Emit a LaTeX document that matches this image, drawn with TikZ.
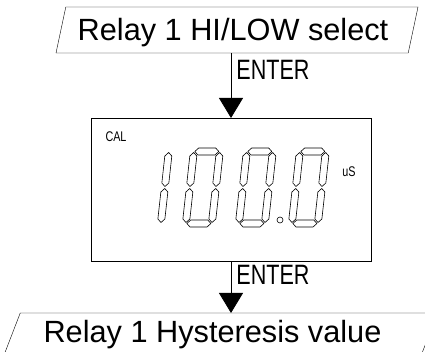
\documentclass[tikz,border=0pt]{standalone}
\usepackage{fontspec}
\setmainfont{Liberation Sans}
\newfontfamily\condfont{Liberation Sans}[FakeStretch=0.77]
\usetikzlibrary{arrows.meta,calc,positioning,shapes.geometric}
\tikzset{%
	io/.style      = {draw, trapezium, trapezium stretches body, minimum height=46pt, inner sep=0pt, outer sep=0pt, font=\fontsize{30.7}{32}\selectfont, text height=22pt, text depth=0pt},
	display/.style = {draw, rectangle, minimum width=280pt, minimum height=143pt, inner sep=0pt, outer sep=0pt},
	arrow/.style   = {line width=0.8pt, -{Triangle[width=24pt,length=20pt]}},
	key/.style     = {font=\condfont\fontsize{28}{30}\selectfont, anchor=west, text height=20pt, text depth=0pt, inner sep=5pt},
	small/.style   = {font=\condfont\fontsize{14}{16}\selectfont, inner sep=0pt},
	seg/.style     = {draw, line width=0.6pt, line join=round},
}
% one LCD segment, horizontal: x1, x2, y
\newcommand{\segH}[3]{\draw[seg] (#1,#3) -- (#1+3.5,#3+3.5) -- (#2-3.5,#3+3.5) -- (#2,#3) -- (#2-3.5,#3-3.5) -- (#1+3.5,#3-3.5) -- cycle;}
% one LCD segment, vertical: x, y1, y2
\newcommand{\segV}[3]{\draw[seg] (#1,#2) -- (#1+3.5,#2+3.5) -- (#1+3.5,#3-3.5) -- (#1,#3) -- (#1-3.5,#3-3.5) -- (#1-3.5,#2+3.5) -- cycle;}

\begin{document}
\begin{tikzpicture}[x=1pt,y=1pt]
	\useasboundingbox (0,0) rectangle (425,351);
	\clip (0,0) rectangle (425,351);

	\node[io, trapezium left angle=66, trapezium right angle=114, minimum width=362pt] (hilo) at (237,321) {Relay 1 HI/LOW select\hspace*{8pt}};
	\node[display] (lcd) at (231,161.5) {};
	\node[io, trapezium left angle=61, trapezium right angle=119, minimum width=435pt, text depth=10pt] (hyst) at (220,15) {Relay 1 Hysteresis value\hspace*{15pt}};

	\node[small] (cal) at (116,214) {CAL};
	\node[small] (unit) at (349,179) {uS};

	% digit "1"
	\begin{scope}[shift={(131,124)}, xslant=0.11]
		\segV{29.5}{40.5}{74.5}
		\segV{29.5}{4.5}{38.5}
	\end{scope}
	% digits "0"
	\foreach \dx in {182,235,288} {
		\begin{scope}[shift={(\dx,124)}, xslant=0.11]
			\segH{4.5}{28.5}{75.5}
			\segH{4.5}{28.5}{3.5}
			\segV{3.5}{40.5}{74.5}
			\segV{3.5}{4.5}{38.5}
			\segV{29.5}{40.5}{74.5}
			\segV{29.5}{4.5}{38.5}
		\end{scope}
	}
	\draw[line width=0.6pt] (280,131) circle (3);

	\draw[arrow] (hilo.south -| lcd.north) -- node[key,pos=0.25] {ENTER} (lcd.north);
	\draw[arrow] (lcd.south) -- node[key,pos=0.25] {ENTER} (lcd.south |- hyst.north);
\end{tikzpicture}
\end{document}
